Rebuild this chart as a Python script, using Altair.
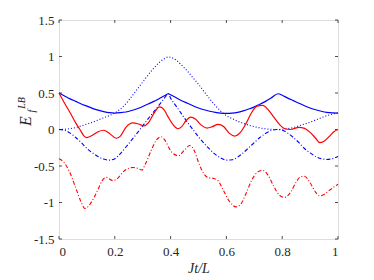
import altair as alt
import pandas as pd

# ---- data ----
t_blue_solid = [0, 0.02, 0.04, 0.06, 0.08, 0.10, 0.12, 0.14, 0.16, 0.18, 0.20, 0.22, 0.24, 0.26, 0.28, 0.30,
                0.32, 0.34, 0.36, 0.38, 0.392, 0.40, 0.42, 0.44, 0.46, 0.48, 0.50, 0.52, 0.54, 0.56, 0.58, 0.60,
                0.62, 0.64, 0.66, 0.68, 0.70, 0.72, 0.74, 0.76, 0.785, 0.80, 0.82, 0.84, 0.86, 0.88, 0.90, 0.92,
                0.94, 0.96, 0.98, 1.0]
v_blue_solid = [0.50, 0.46, 0.42, 0.385, 0.35, 0.32, 0.29, 0.265, 0.245, 0.23, 0.225, 0.23, 0.24, 0.26, 0.285, 0.315,
                0.35, 0.385, 0.425, 0.465, 0.49, 0.475, 0.435, 0.395, 0.36, 0.325, 0.295, 0.27, 0.25, 0.235, 0.225, 0.222,
                0.225, 0.235, 0.255, 0.28, 0.31, 0.345, 0.385, 0.43, 0.49, 0.47, 0.43, 0.395, 0.36, 0.325, 0.295, 0.27,
                0.25, 0.235, 0.228, 0.225]

t_blue_dot = [0, 0.02, 0.04, 0.06, 0.08, 0.10, 0.12, 0.14, 0.16, 0.18, 0.20, 0.22, 0.24, 0.26, 0.28, 0.30,
              0.32, 0.34, 0.36, 0.38, 0.392, 0.40, 0.42, 0.44, 0.46, 0.48, 0.50, 0.52, 0.54, 0.56, 0.58, 0.60,
              0.62, 0.64, 0.66, 0.68, 0.70, 0.72, 0.74, 0.76, 0.78, 0.80, 0.82, 0.84, 0.86, 0.88, 0.90, 0.92,
              0.94, 0.96, 0.98, 1.0]
v_blue_dot = [0.0, 0.003, 0.012, 0.027, 0.05, 0.075, 0.10, 0.13, 0.16, 0.19, 0.225, 0.28, 0.355, 0.45, 0.55, 0.65,
              0.75, 0.84, 0.92, 0.975, 0.995, 0.99, 0.95, 0.88, 0.80, 0.71, 0.62, 0.52, 0.42, 0.33, 0.25, 0.19,
              0.15, 0.115, 0.085, 0.06, 0.04, 0.022, 0.01, 0.003, 0.0, 0.003, 0.012, 0.027, 0.05, 0.075, 0.10, 0.13,
              0.16, 0.19, 0.21, 0.23]

t_blue_dashdot = [0, 0.02, 0.04, 0.06, 0.08, 0.10, 0.12, 0.14, 0.16, 0.18, 0.20, 0.22, 0.24, 0.26, 0.28, 0.30,
                  0.32, 0.34, 0.36, 0.38, 0.392, 0.40, 0.42, 0.44, 0.46, 0.48, 0.50, 0.52, 0.54, 0.56, 0.58, 0.60,
                  0.62, 0.64, 0.66, 0.68, 0.70, 0.72, 0.74, 0.76, 0.78, 0.80, 0.82, 0.84, 0.86, 0.88, 0.90, 0.92,
                  0.94, 0.96, 0.98, 1.0]
v_blue_dashdot = [0.0, -0.01, -0.05, -0.11, -0.18, -0.26, -0.32, -0.37, -0.405, -0.42, -0.40, -0.33, -0.24, -0.145, -0.05, 0.05,
                  0.15, 0.245, 0.34, 0.44, 0.49, 0.43, 0.32, 0.21, 0.10, 0.0, -0.10, -0.19, -0.27, -0.34, -0.39, -0.42,
                  -0.415, -0.38, -0.32, -0.25, -0.18, -0.11, -0.055, -0.015, 0.0, -0.01, -0.05, -0.11, -0.18, -0.26, -0.32, -0.37,
                  -0.40, -0.41, -0.40, -0.37]

t_red_solid = [0, 0.02, 0.04, 0.06, 0.075, 0.09, 0.10, 0.12, 0.14, 0.16, 0.18, 0.205, 0.22, 0.24, 0.265, 0.285,
               0.305, 0.32, 0.34, 0.36, 0.375, 0.39, 0.41, 0.426, 0.44, 0.455, 0.472, 0.49, 0.51, 0.53, 0.55, 0.57,
               0.59, 0.61, 0.63, 0.65, 0.67, 0.69, 0.71, 0.73, 0.75, 0.77, 0.79, 0.81, 0.83, 0.86, 0.88, 0.90,
               0.92, 0.935, 0.95, 0.97, 0.985, 1.0]
v_red_solid = [0.50, 0.36, 0.23, 0.09, 0.0, -0.09, -0.11, -0.08, -0.03, -0.01, -0.05, -0.12, -0.09, 0.03, 0.09, 0.075,
               0.05, 0.09, 0.22, 0.31, 0.28, 0.18, 0.06, 0.01, 0.04, 0.12, 0.17, 0.14, 0.06, 0.02, 0.04, 0.07,
               0.04, -0.05, -0.09, -0.04, 0.08, 0.23, 0.32, 0.33, 0.27, 0.17, 0.07, 0.01, 0.0, 0.03, 0.015, -0.04,
               -0.12, -0.18, -0.16, -0.09, -0.03, 0.0]

t_red_dashdot = [0, 0.02, 0.04, 0.06, 0.08, 0.092, 0.10, 0.12, 0.14, 0.155, 0.169, 0.193, 0.21, 0.23, 0.25, 0.265,
                 0.28, 0.297, 0.31, 0.33, 0.35, 0.366, 0.38, 0.40, 0.428, 0.45, 0.468, 0.485, 0.50, 0.52, 0.535, 0.555,
                 0.57, 0.59, 0.61, 0.635, 0.65, 0.67, 0.69, 0.71, 0.73, 0.75, 0.77, 0.79, 0.808, 0.83, 0.85, 0.865,
                 0.88, 0.90, 0.92, 0.935, 0.95, 0.97, 0.985, 1.0]
v_red_dashdot = [-0.40, -0.46, -0.60, -0.80, -1.00, -1.08, -1.07, -0.97, -0.82, -0.70, -0.655, -0.70, -0.67, -0.58, -0.53, -0.52,
                 -0.53, -0.555, -0.47, -0.29, -0.14, -0.10, -0.15, -0.29, -0.36, -0.28, -0.22, -0.29, -0.45, -0.61, -0.66, -0.67,
                 -0.70, -0.84, -0.98, -1.06, -1.03, -0.88, -0.70, -0.59, -0.56, -0.63, -0.78, -0.90, -0.93, -0.86, -0.72, -0.65,
                 -0.64, -0.73, -0.86, -0.91, -0.89, -0.83, -0.79, -0.75]

x_ticks = [0, 0.2, 0.4, 0.6, 0.8, 1]
y_ticks = [-1.5, -1, -0.5, 0, 0.5, 1, 1.5]

W, H = 279, 219
FONT = "'Liberation Serif', 'Times New Roman', serif"
AX = "#4d4d4d"
TXT = "#262626"

xs = alt.Scale(domain=[0, 1], nice=False, zero=False)
ys = alt.Scale(domain=[-1.5, 1.5], nice=False, zero=False)

x_axis = alt.Axis(values=x_ticks, tickSize=0, domain=False, grid=False, labelFont=FONT, labelFontSize=13,
                  labelColor=TXT, labelPadding=6, labelExpr="'' + datum.value", title="Jt/L",
                  titleFont=FONT, titleFontSize=14, titleFontStyle="italic", titleFontWeight="normal",
                  titleColor=TXT, titlePadding=3)
y_axis = alt.Axis(values=y_ticks, tickSize=0, domain=False, grid=False, labelFont=FONT, labelFontSize=13,
                  labelColor=TXT, labelPadding=5, labelExpr="'' + datum.value", title=None)


def line(t, v, color, dash, width):
    df = pd.DataFrame({"t": t, "v": v})
    mk = dict(color=color, strokeWidth=width, interpolate="monotone")
    if dash:
        mk["strokeDash"] = dash
    return alt.Chart(df).mark_line(**mk).encode(
        x=alt.X("t:Q", scale=xs, axis=x_axis),
        y=alt.Y("v:Q", scale=ys, axis=y_axis),
    )


BLUE = "#0000ff"
RED = "#ff0000"
layers = [
    line(t_blue_dot, v_blue_dot, BLUE, [1, 2], 1.1),
    line(t_blue_dashdot, v_blue_dashdot, BLUE, [4, 2, 1, 2], 1.1),
    line(t_red_dashdot, v_red_dashdot, RED, [4, 2, 1, 2], 1.1),
    line(t_blue_solid, v_blue_solid, BLUE, None, 1.2),
    line(t_red_solid, v_red_solid, RED, None, 1.2),
]

xt = pd.DataFrame({"t": x_ticks})
yt = pd.DataFrame({"v": y_ticks})
tick_layers = [
    alt.Chart(xt).mark_rule(color=AX, strokeWidth=1).encode(x=alt.X("t:Q", scale=xs, axis=x_axis), y=alt.value(H), y2=alt.value(H - 3)),
    alt.Chart(xt).mark_rule(color=AX, strokeWidth=1).encode(x=alt.X("t:Q", scale=xs, axis=x_axis), y=alt.value(0), y2=alt.value(3)),
    alt.Chart(yt).mark_rule(color=AX, strokeWidth=1).encode(y=alt.Y("v:Q", scale=ys, axis=y_axis), x=alt.value(0), x2=alt.value(3)),
    alt.Chart(yt).mark_rule(color=AX, strokeWidth=1).encode(y=alt.Y("v:Q", scale=ys, axis=y_axis), x=alt.value(W), x2=alt.value(W - 3)),
]

lab = pd.DataFrame({"k": [0]})
ylabel = [
    alt.Chart(lab).mark_text(text="E", font=FONT, fontSize=16, fontStyle="italic", angle=270, align="center",
                             baseline="alphabetic", color=TXT).encode(x=alt.value(-28), y=alt.value(101)),
    alt.Chart(lab).mark_text(text="LB", font=FONT, fontSize=10, fontStyle="italic", angle=270, align="center",
                             baseline="alphabetic", color=TXT).encode(x=alt.value(-34), y=alt.value(83)),
    alt.Chart(lab).mark_text(text="f", font=FONT, fontSize=10, fontStyle="italic", angle=270, align="center",
                             baseline="alphabetic", color=TXT).encode(x=alt.value(-24), y=alt.value(91)),
]

chart = alt.layer(*tick_layers, *layers, *ylabel).properties(
    width=W, height=H, autosize="none",
    padding={"left": 51, "top": 12, "right": 20, "bottom": 41},
).configure_view(stroke=AX, strokeWidth=1).configure(background="white")

chart.save("out.html", embed_options={"renderer": "svg", "actions": False})
